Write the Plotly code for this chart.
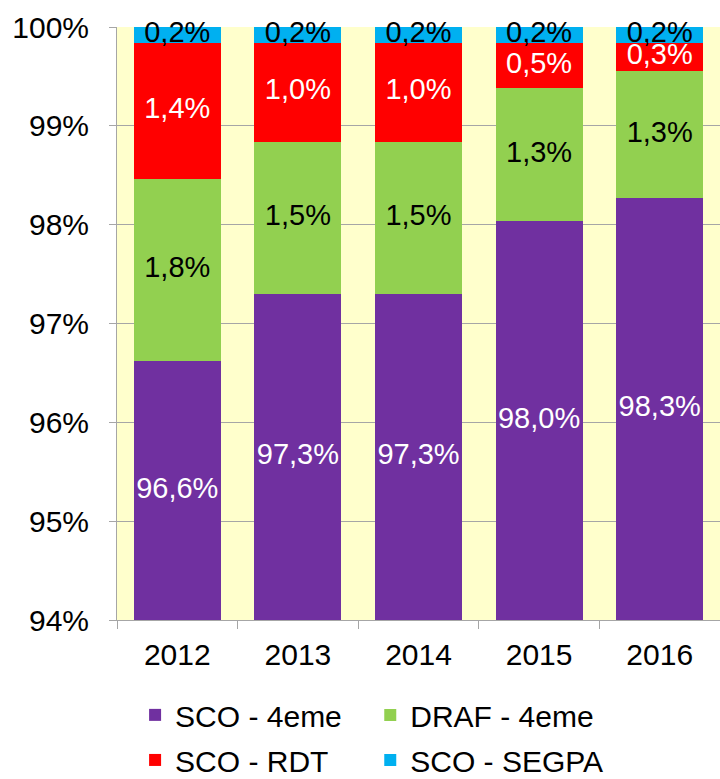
import plotly.graph_objects as go

years = ["2012", "2013", "2014", "2015", "2016"]
sco_4eme = [96.62, 97.30, 97.30, 98.04, 98.27]
draf_4eme = [1.84, 1.54, 1.54, 1.34, 1.28]
sco_rdt = [1.38, 1.00, 1.00, 0.46, 0.29]
sco_segpa = [0.16, 0.16, 0.16, 0.16, 0.16]

series_names = ["SCO - 4eme", "DRAF - 4eme", "SCO - RDT", "SCO - SEGPA"]
series_values = [sco_4eme, draf_4eme, sco_rdt, sco_segpa]
series_colors = ["#7030A0", "#92D050", "#FF0000", "#00B0F0"]
label_colors = ["white", "black", "white", "black"]
legend_ids = ["legend", "legend2", "legend3", "legend4"]

y_min, y_max = 94, 100
y_ticks = list(range(94, 101))
y_ticktext = [f"{t}%" for t in y_ticks]
FONT = "Arial, Liberation Sans, sans-serif"

fig = go.Figure()
for name, vals, col, lg in zip(series_names, series_values, series_colors, legend_ids):
    fig.add_trace(go.Bar(x=years, y=vals, name=name, legend=lg,
                         marker=dict(color=col, line=dict(width=0)), hoverinfo="skip"))

# labels centred on the visible part of each segment
base = [0.0] * len(years)
for vals, lc in zip(series_values, label_colors):
    mids, texts = [], []
    for i, v in enumerate(vals):
        lo = max(base[i], y_min)
        hi = min(base[i] + v, y_max)
        mids.append((lo + hi) / 2)
        texts.append(f"{v:.1f}".replace(".", ",") + "%")
        base[i] += v
    fig.add_trace(go.Scatter(x=years, y=mids, text=texts, mode="text", showlegend=False,
                             textfont=dict(family=FONT, size=29, color=lc),
                             cliponaxis=False, hoverinfo="skip"))

leg_common = dict(orientation="h", xanchor="left", yanchor="middle",
                  font=dict(size=30), bgcolor="rgba(0,0,0,0)")
col_x = [0.030, 0.420]
row_y = [-0.160, -0.236]

fig.update_layout(
    barmode="stack",
    bargap=0.28,
    width=720, height=779,
    margin=dict(l=117, r=0, t=27, b=159, autoexpand=False),
    paper_bgcolor="white",
    plot_bgcolor="#FFFFCC",
    font=dict(family=FONT, size=30, color="black"),
    showlegend=True,
    legend=dict(x=col_x[0], y=row_y[0], **leg_common),
    legend2=dict(x=col_x[1], y=row_y[0], **leg_common),
    legend3=dict(x=col_x[0], y=row_y[1], **leg_common),
    legend4=dict(x=col_x[1], y=row_y[1], **leg_common),
    separators=",.",
)
fig.update_yaxes(range=[y_min, y_max], tickvals=y_ticks, ticktext=y_ticktext,
                 showgrid=True, gridcolor="#A6A6A6", gridwidth=1,
                 showline=True, linecolor="#A6A6A6", linewidth=1,
                 ticks="outside", ticklen=7, tickcolor="#A6A6A6",
                 ticklabelstandoff=14,
                 tickfont=dict(size=30), zeroline=False, automargin=False)
fig.update_xaxes(showline=True, linecolor="#A6A6A6", linewidth=1,
                 ticks="outside", tickson="boundaries", ticklen=8, tickcolor="#A6A6A6",
                 ticklabelstandoff=8,
                 tickfont=dict(size=30), automargin=False)

fig.write_html("out.html", post_script="document.body.style.margin='0';",
               config={"displayModeBar": False})
